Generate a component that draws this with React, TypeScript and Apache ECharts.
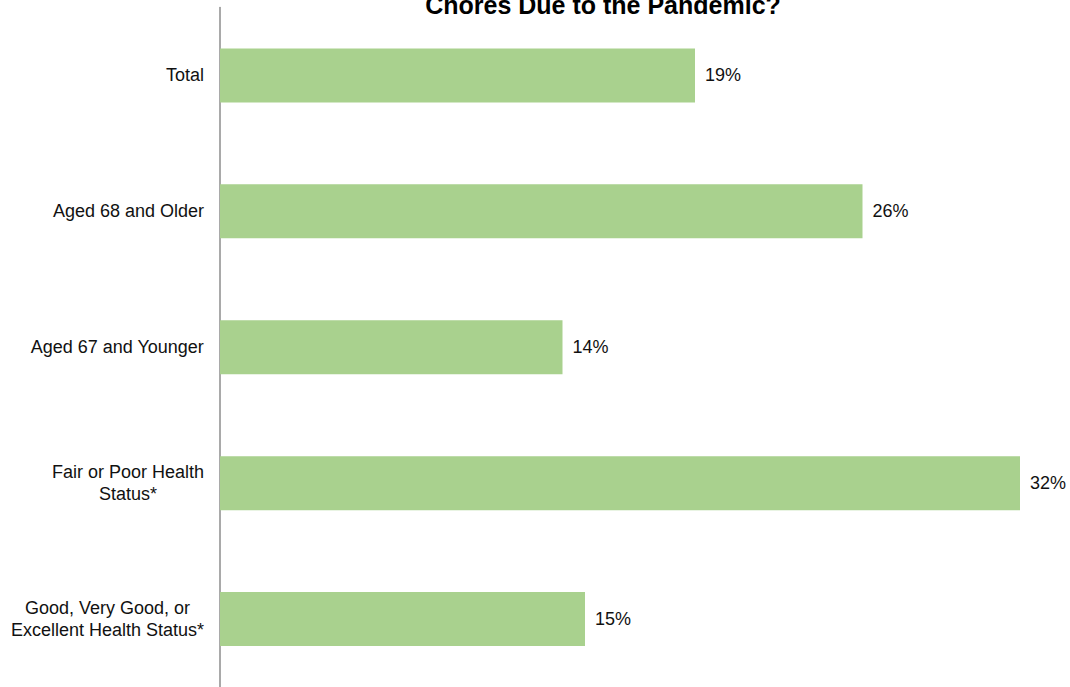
import React, { useEffect, useRef } from "react";
import * as echarts from "echarts";

const titleText = "Chores Due to the Pandemic?";
const categories = [
  "Total",
  "Aged 68 and Older",
  "Aged 67 and Younger",
  "Fair or Poor Health\nStatus*",
  "Good, Very Good, or\nExcellent Health Status*",
];
const values = [19.0, 25.7, 13.7, 32.0, 14.6];

const FONT = 'Arial, "Liberation Sans", sans-serif';

export default function App() {
  const ref = useRef<HTMLDivElement>(null);
  useEffect(() => {
    if (!ref.current) return;
    const chart = echarts.init(ref.current, undefined, { renderer: "svg" });
    chart.setOption({
      animation: false,
      backgroundColor: "#ffffff",
      graphic: [
        {
          type: "text",
          x: 603,
          y: 5,
          style: {
            text: titleText,
            align: "center",
            verticalAlign: "middle",
            fontSize: 25,
            fontWeight: "bold",
            fontFamily: FONT,
            fill: "#000000",
          },
        },
      ],
      grid: { left: 220, top: 7.5, right: 0, height: 685 },
      xAxis: {
        type: "value",
        min: 0,
        max: 34,
        show: false,
      },
      yAxis: {
        type: "category",
        data: categories,
        inverse: true,
        axisLine: { show: true, lineStyle: { color: "#8c8c8c", width: 1.5 } },
        axisTick: { show: false },
        splitLine: { show: false },
        axisLabel: {
          margin: 16,
          fontSize: 18,
          fontFamily: FONT,
          color: "#111111",
          align: "right",
          formatter: (v: string) =>
            v
              .split("\n")
              .map((l) => `{c|${l}}`)
              .join("\n"),
          rich: {
            c: {
              align: "center",
              fontSize: 18,
              lineHeight: 22,
              fontFamily: FONT,
              color: "#111111",
            },
          },
        },
      },
      series: [
        {
          type: "bar",
          data: values,
          barWidth: 54,
          itemStyle: { color: "#a9d18e" },
          label: {
            show: true,
            position: "right",
            distance: 10,
            fontSize: 18,
            fontFamily: FONT,
            color: "#111111",
            formatter: (p: any) => `${Math.round(p.value)}%`,
          },
        },
      ],
    });
    return () => chart.dispose();
  }, []);
  return (
    <div
      ref={ref}
      style={{ position: "fixed", left: 0, top: 0, width: 1070, height: 687 }}
    />
  );
}
